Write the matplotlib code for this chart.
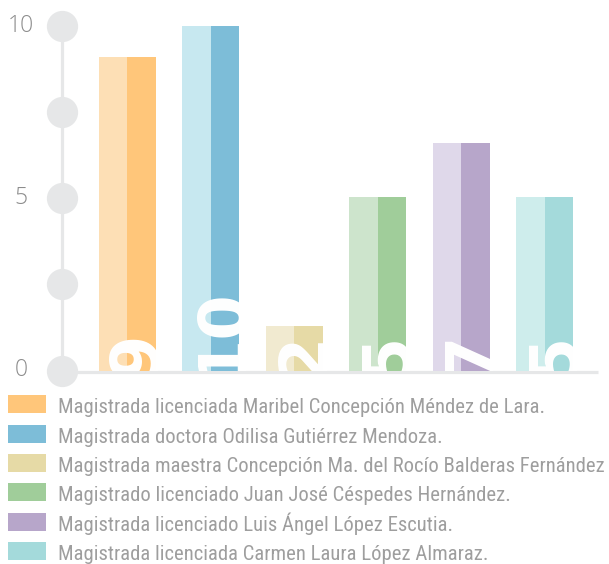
import matplotlib
matplotlib.use("Agg")
import matplotlib.pyplot as plt
from matplotlib.patches import Rectangle
from matplotlib import font_manager

# ---- data ----
names = [
    "Magistrada licenciada Maribel Concepción Méndez de Lara.",
    "Magistrada doctora Odilisa Gutiérrez Mendoza.",
    "Magistrada maestra Concepción Ma. del Rocío Balderas Fernández",
    "Magistrado licenciado Juan José Céspedes Hernández.",
    "Magistrada licenciado Luis Ángel López Escutia.",
    "Magistrada licenciada Carmen Laura López Almaraz.",
]
values = [9.1, 10, 1.3, 5.05, 6.6, 5.05]
value_labels = ["9", "10", "2", "5", "7", "5"]
dark_colors = ["#FFC67A", "#7DBDD8", "#E6DAA6", "#A0CD9A", "#B7A6CA", "#A4DADB"]
light_colors = ["#FDDFB5", "#C7E8F0", "#F1EAD0", "#CDE4CC", "#DFD8EA", "#CEEDEC"]
yticks = [0, 5, 10]
dot_levels = [0, 2.5, 5, 7.5, 10]

# ---- pick a condensed font if one is installed ----
def pick_condensed():
    cands = []
    for f in font_manager.fontManager.ttflist:
        nm = f.name
        st = str(f.stretch)
        if f.style != "normal":
            continue
        w = f.weight if isinstance(f.weight, int) else 400
        if w not in (300, 400):
            continue
        if ("Narrow" in nm or "Condensed" in nm or st in ("condensed", "semi-condensed")):
            cands.append(f)
    pref = ["Liberation Sans Narrow", "Open Sans Condensed", "Roboto Condensed",
            "Noto Sans Condensed", "DejaVu Sans Condensed", "DejaVu Sans"]
    for p in pref:
        for f in cands:
            if f.name == p:
                return font_manager.FontProperties(fname=f.fname)
    if cands:
        return font_manager.FontProperties(fname=cands[0].fname)
    return font_manager.FontProperties(family=["Roboto", "DejaVu Sans"])

legend_font = pick_condensed()

# ---- figure ----
W, H = 609, 564
fig = plt.figure(figsize=(W / 100, H / 100), dpi=100)
y0px, y10px = 370.5, 26
xl, xr = 62, 598
ax = fig.add_axes([xl / W, (H - y0px) / H, (xr - xl) / W, (y0px - y10px) / H])
ax.set_ylim(0, 10)
ax.set_xlim(-0.7835, 5.638)
ax.axis("off")

grey = "#E6E7E8"
x0 = ax.get_xlim()[0]
x1 = ax.get_xlim()[1]

# baseline
ax.plot([x0, x1], [-0.045, -0.045], color=grey, lw=2.3, clip_on=False,
        zorder=1, solid_capstyle="butt")
# vertical axis line with dots
ax.plot([x0, x0], [0, 10], color=grey, lw=2.3, clip_on=False, zorder=4)
ax.plot([x0] * len(dot_levels), dot_levels, "o", ms=22.5, color=grey,
        clip_on=False, zorder=5, markeredgewidth=0)

# bars (two-tone halves)
bw = 0.683
for i, v in enumerate(values):
    ax.bar(i - bw / 4, v, bw / 2, color=light_colors[i], zorder=2)
    ax.bar(i + bw / 4, v, bw / 2, color=dark_colors[i], zorder=2)
    ax.text(i + bw / 2, -0.2, value_labels[i], rotation=90,
            rotation_mode="anchor", ha="left", va="baseline",
            fontsize=47, fontweight="bold", color="white",
            family="DejaVu Sans", clip_on=True, zorder=3)

# y tick labels
for t in yticks:
    ax.text((21 - xl) / (xr - xl), t, str(t), transform=ax.get_yaxis_transform(),
            ha="center", va="center", fontsize=16.5, color="#8C8C8C",
            family=["Open Sans", "DejaVu Sans"], fontweight="light")

# legend (manual)
texts = []
for k, name in enumerate(names):
    base = 413.3 + 29.31 * k
    fig.add_artist(Rectangle((8 / W, (H - base) / H), 38 / W, 18 / H,
                             transform=fig.transFigure, color=dark_colors[k],
                             lw=0))
    t = fig.text(58 / W, (H - base) / H, name, ha="left", va="baseline",
                 fontproperties=legend_font, fontsize=15, color="#9E9E9E")
    texts.append(t)

# fit the legend text size so the widest entry ends where the reference's does
renderer = fig.canvas.get_renderer()
wmax = max(t.get_window_extent(renderer).width for t in texts)
fs = 15 * (605 - 58) / wmax
fs = min(fs, 17)
for t in texts:
    t.set_fontsize(fs)

fig.savefig("out.png", dpi=100)
